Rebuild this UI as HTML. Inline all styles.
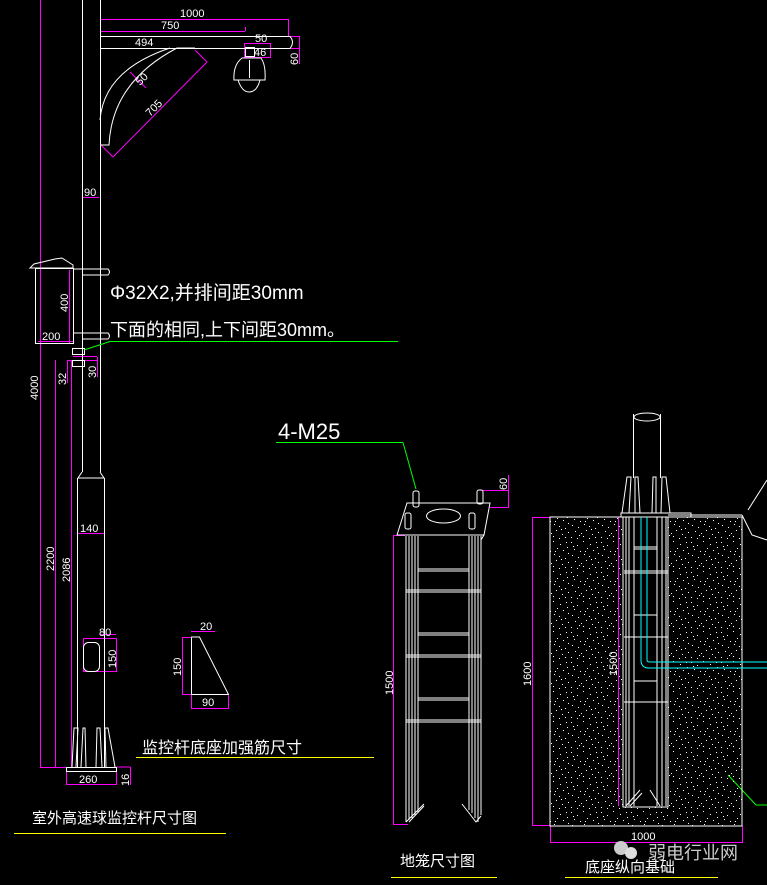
<!DOCTYPE html>
<html><head><meta charset="utf-8"><style>
html,body{margin:0;padding:0;background:#000;}
svg{display:block}
text{font-family:"Liberation Sans","Noto Sans CJK SC",sans-serif;}
</style></head><body>
<svg width="767" height="885" viewBox="0 0 767 885" xmlns="http://www.w3.org/2000/svg">
<defs>
<pattern id="sp" width="30" height="30" patternUnits="userSpaceOnUse">
<g fill="#fff">
<rect x="1" y="2" width="1" height="1"/><rect x="7" y="5" width="1" height="1"/><rect x="13" y="1" width="1" height="1"/><rect x="20" y="4" width="1" height="1"/><rect x="26" y="2" width="1" height="1"/>
<rect x="4" y="9" width="1" height="1"/><rect x="10" y="11" width="1" height="1"/><rect x="17" y="8" width="1" height="1"/><rect x="23" y="10" width="1" height="1"/><rect x="28" y="13" width="1" height="1"/>
<rect x="2" y="15" width="1" height="1"/><rect x="8" y="17" width="1" height="1"/><rect x="14" y="14" width="1" height="1"/><rect x="19" y="16" width="1" height="1"/><rect x="25" y="18" width="1" height="1"/>
<rect x="5" y="21" width="1" height="1"/><rect x="11" y="23" width="1" height="1"/><rect x="16" y="20" width="1" height="1"/><rect x="22" y="24" width="1" height="1"/><rect x="28" y="22" width="1" height="1"/>
<rect x="1" y="27" width="1" height="1"/><rect x="7" y="28" width="1" height="1"/><rect x="13" y="26" width="1" height="1"/><rect x="19" y="28" width="1" height="1"/><rect x="25" y="27" width="1" height="1"/>
<rect x="3" y="6" width="1" height="1"/><rect x="15" y="11" width="1" height="1"/><rect x="27" y="7" width="1" height="1"/><rect x="9" y="25" width="1" height="1"/><rect x="21" y="19" width="1" height="1"/>
</g></pattern>
</defs>
<g fill="none" stroke-width="1">
<g stroke="#f0f">
<line x1="40.5" y1="0" x2="40.5" y2="767"/>
<line x1="55.5" y1="360" x2="55.5" y2="767"/>
<line x1="71.5" y1="360" x2="71.5" y2="767"/>
<line x1="40" y1="767.5" x2="66" y2="767.5"/>
<line x1="100" y1="19.5" x2="288" y2="19.5"/><line x1="288.5" y1="19" x2="288.5" y2="36"/>
<line x1="100" y1="31.5" x2="245" y2="31.5"/><line x1="245.5" y1="27" x2="245.5" y2="31"/>
<line x1="290" y1="36.5" x2="299" y2="36.5"/><line x1="299.5" y1="36" x2="299.5" y2="64"/><line x1="290" y1="48.5" x2="299" y2="48.5"/>
<rect x="244.5" y="43.5" width="26" height="14"/>
<line x1="101" y1="145" x2="113" y2="157"/><line x1="113" y1="157" x2="207" y2="62"/><line x1="207" y1="62" x2="195" y2="50"/>
<line x1="130" y1="72" x2="146" y2="88"/>
<line x1="83" y1="197.5" x2="99" y2="197.5"/>
<line x1="69.5" y1="270" x2="69.5" y2="343"/>
<line x1="38" y1="341.5" x2="73" y2="341.5"/>
<line x1="67" y1="360.5" x2="97" y2="360.5"/><line x1="67.5" y1="360" x2="67.5" y2="383"/>
<line x1="73" y1="356.5" x2="97" y2="356.5"/><line x1="97.5" y1="357" x2="97.5" y2="377"/>
<line x1="78" y1="533.5" x2="104" y2="533.5"/>
<rect x="83.5" y="638.5" width="33" height="33"/><line x1="100" y1="634.5" x2="116" y2="634.5"/>
<rect x="66.5" y="767.5" width="50" height="17"/><line x1="116.5" y1="767" x2="130.5" y2="767"/><line x1="130.5" y1="767" x2="130.5" y2="785"/>
<rect x="182.5" y="637.5" width="9" height="57"/><line x1="191" y1="631.5" x2="215" y2="631.5"/>
<rect x="191.5" y="694.5" width="37" height="14"/>
<line x1="393.5" y1="536" x2="393.5" y2="825"/><line x1="393" y1="535.5" x2="405" y2="535.5"/><line x1="393" y1="824.5" x2="408" y2="824.5"/>
<line x1="482" y1="490.5" x2="508" y2="490.5"/><line x1="508.5" y1="475" x2="508.5" y2="508"/><line x1="490" y1="507.5" x2="508" y2="507.5"/>
<line x1="532.5" y1="517" x2="532.5" y2="826"/><line x1="532" y1="517.5" x2="550" y2="517.5"/><line x1="532" y1="825.5" x2="550" y2="825.5"/>
<line x1="550.5" y1="826" x2="550.5" y2="843"/><line x1="742.5" y1="826" x2="742.5" y2="843"/><line x1="550" y1="842.5" x2="742" y2="842.5"/>
<line x1="618.5" y1="517" x2="618.5" y2="806"/>
</g>
<g stroke="#fff">
<line x1="82.5" y1="0" x2="82.5" y2="472"/><line x1="100.5" y1="0" x2="100.5" y2="472"/>
<path d="M82 472 L78 478 L104 478 L100 472"/>
<line x1="77.5" y1="478" x2="77.5" y2="767"/><line x1="104.5" y1="478" x2="104.5" y2="767"/>
<path d="M72 767 L74 728 L78 728 L76 767 M81 767 L83 728 L85 728 L86 767 M96 767 L97 728 L100 728 L102 767 M106 767 L105 728 L108 728 L115 767"/>
<rect x="66.5" y="767.5" width="50" height="4"/>
<rect x="83.5" y="642.5" width="16" height="29" rx="5"/>
<path d="M100 36.5 L290 36.5 Q295 42 290 48.5 L100 48.5"/>
<path d="M100 145 L109 145 Q112 82 177 48 L195 48 M100 120 Q104 70 170 48"/>
<rect x="245.5" y="47.5" width="9" height="9"/>
<path d="M242 58 L261 58 Q266 65 265 80 L234 80 Q233 65 242 58 Z"/>
<path d="M238 80 Q242 92 249 92 Q257 92 260 80"/>
<line x1="249.5" y1="60" x2="249.5" y2="78"/>
<path d="M30 268 L34 264 L55 259 L62 258 L73 265 L73 268 Z"/>
<rect x="35.5" y="268.5" width="38" height="75"/>
<path d="M73 269 L108 269 Q111 272 108 275 L83 275 M73 333 L108 333 Q111 336 108 339 L83 339"/>
<rect x="72.5" y="348.5" width="12" height="6"/><rect x="72.5" y="360.5" width="12" height="6"/>
<path d="M191.5 637 L191.5 694.5 L228.5 694.5 L199.5 637 Z"/>
</g>
<g stroke="#0f0">
<line x1="110" y1="341.5" x2="398" y2="341.5"/><line x1="110" y1="341.5" x2="84" y2="350"/>
<line x1="276" y1="442.5" x2="403" y2="442.5"/><line x1="403" y1="442.5" x2="416" y2="489"/>
<line x1="728" y1="775" x2="756" y2="805"/><line x1="756" y1="805" x2="767" y2="805"/>
</g>
<g stroke="#fff">
<path d="M407 503 L490 503 L484 535 L397 535 Z"/>
<line x1="484" y1="535" x2="481" y2="540"/>
<ellipse cx="443.5" cy="516" rx="17" ry="7"/>
<rect x="413" y="491" width="6" height="16" rx="2"/><rect x="477" y="490" width="6" height="14" rx="2"/>
<rect x="405" y="513" width="6" height="16" rx="2"/><rect x="469" y="513" width="6" height="16" rx="2"/>
<path d="M406 536 V822 M409 536 V820 M412 536 V818 M415 536 V815 M418 536 V812"/>
<path d="M469 536 V810 M472 536 V813 M475 536 V818 M478 536 V822 M481 536 V815"/>
<path d="M418 569 H469 M418 571 H469 M406 590 H481 M406 592 H481 M418 633 H469 M418 635 H469 M406 655 H481 M406 657 H481 M418 698 H469 M418 700 H469 M406 720 H481 M406 722 H481"/>
<path d="M406 822 L424 804 M409 822 L424 806 M462 804 L476 822 L481 816"/>
</g>
<rect x="550" y="517" width="192" height="309" fill="url(#sp)" stroke="#fff"/>
<g stroke="#fff">
<rect x="623" y="517" width="45" height="290" fill="#000"/>
<path d="M626 517 V806 M629 517 V806 M634 517 V806 M657 517 V806 M662 517 V806 M666 517 V806"/>
<path d="M634 547 H657 M634 549 H657 M624 571 H668 M624 573 H668 M634 615 H657 M624 637 H668 M634 681 H657 M624 702 H668"/>
<path d="M626 806 L640 790 M630 806 L642 793 M650 790 L660 806"/>
<rect x="621" y="513" width="70" height="4"/>
<line x1="668" y1="515" x2="742" y2="515"/>
<line x1="633.5" y1="414" x2="633.5" y2="478"/><line x1="660.5" y1="414" x2="660.5" y2="478"/>
<ellipse cx="647" cy="417" rx="13" ry="4"/>
<path d="M622 513 L627 477 L631 477 L629 513 M635 513 L635 477 L638 477 L640 513 M652 513 L653 477 L656 477 L656 513 M661 513 L662 477 L666 477 L670 513"/>
<path d="M742 515 L752 535 L767 540 M748 510 L767 480"/>
</g>
<g stroke="#0ff">
<path d="M641 517 V660 Q641 668 649 668 H767"/>
<path d="M647 517 V660 Q647 662 650 662 H767"/>
</g>
<g stroke="#ff0">
<line x1="14" y1="833.5" x2="226" y2="833.5"/>
<line x1="136" y1="757.5" x2="374" y2="757.5"/>
<line x1="391" y1="877.5" x2="497" y2="877.5"/>
<line x1="565" y1="877.5" x2="718" y2="877.5"/>
</g>
</g>
<g fill="#fff" font-size="11">
<text x="180" y="17">1000</text>
<text x="161" y="29">750</text>
<text x="135" y="46">494</text>
<text x="255" y="42">50</text>
<text x="254" y="56">46</text>
<text x="298" y="65" transform="rotate(-90 298 65)">60</text>
<text x="140" y="86" transform="rotate(-45 140 86)">50</text>
<text x="150" y="117" transform="rotate(-45 150 117)">705</text>
<text x="84" y="196">90</text>
<text x="68" y="312" transform="rotate(-90 68 312)">400</text>
<text x="42" y="340">200</text>
<text x="38" y="400" transform="rotate(-90 38 400)">4000</text>
<text x="66" y="385" transform="rotate(-90 66 385)">32</text>
<text x="96" y="378" transform="rotate(-90 96 378)">30</text>
<text x="54" y="571" transform="rotate(-90 54 571)">2200</text>
<text x="70" y="582" transform="rotate(-90 70 582)">2086</text>
<text x="80" y="532">140</text>
<text x="99" y="636">80</text>
<text x="116" y="668" transform="rotate(-90 116 668)">150</text>
<text x="79" y="783">260</text>
<text x="129" y="786" transform="rotate(-90 129 786)">16</text>
<text x="200" y="630">20</text>
<text x="181" y="676" transform="rotate(-90 181 676)">150</text>
<text x="202" y="706">90</text>
<text x="507" y="490" transform="rotate(-90 507 490)">60</text>
<text x="393" y="695" transform="rotate(-90 393 695)">1500</text>
<text x="531" y="686" transform="rotate(-90 531 686)">1600</text>
<text x="617" y="676" transform="rotate(-90 617 676)">1500</text>
<text x="631" y="840">1000</text>
<text x="110" y="299" font-size="19">Φ32X2,并排间距30mm</text>
<text x="110" y="336" font-size="18">下面的相同,上下间距30mm。</text>
<text x="278" y="439" font-size="22">4-M25</text>
<text x="142" y="753" font-size="16">监控杆底座加强筋尺寸</text>
<text x="32" y="823" font-size="15">室外高速球监控杆尺寸图</text>
<text x="400" y="866" font-size="15">地笼尺寸图</text>
<text x="585" y="872" font-size="15">底座纵向基础</text>
<text x="648" y="859" font-size="18" fill="#ccc">弱电行业网</text>
</g>
<circle cx="621" cy="848" r="7" fill="#ccc"/><circle cx="631" cy="853" r="6" fill="#ddd"/>
</svg>
</body></html>
